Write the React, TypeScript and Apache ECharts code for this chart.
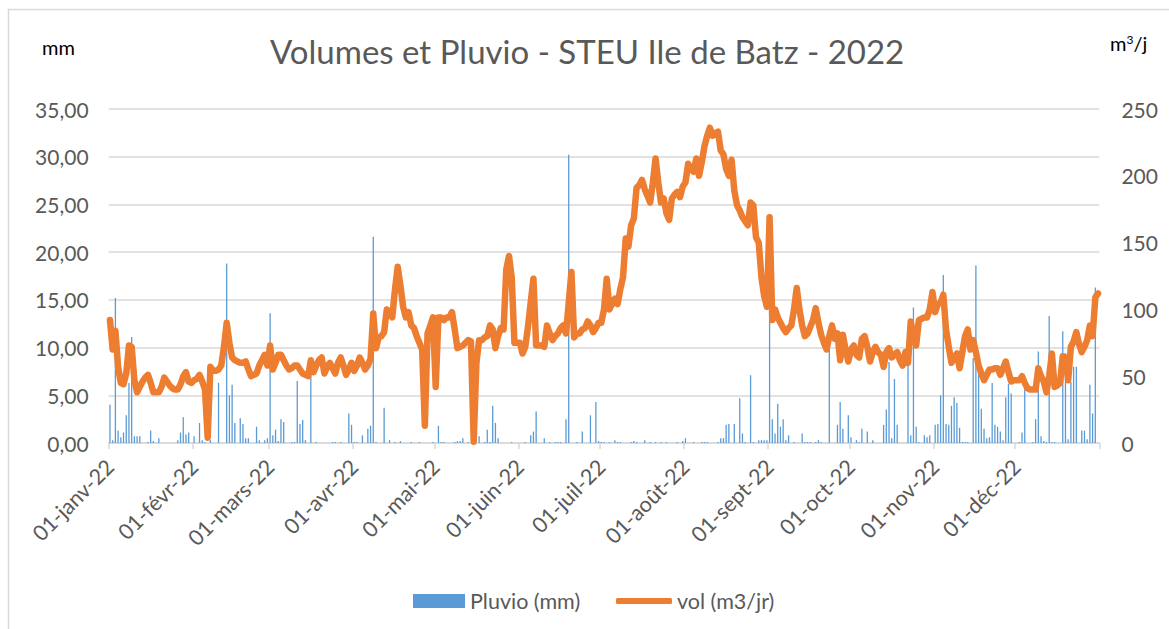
import React, { useEffect, useRef } from "react";
import * as echarts from "echarts";

const monthNames = ["janv", "févr", "mars", "avr", "mai", "juin", "juil", "août", "sept", "oct", "nov", "déc"];
const daysPerMonth = [31, 28, 31, 30, 31, 30, 31, 31, 30, 31, 30, 31];

// Pluvio (mm), daily, per month
const pluvioJanv = [4.0, 0.3, 15.2, 1.3, 0.6, 1.1, 2.9, 6.3, 11.1, 0.7, 0.7, 0.7, 0, 0, 0.1, 1.3, 0.2, 0, 0.5, 0, 0, 0, 0, 0, 0, 0.3, 1.1, 2.7, 0.9, 1.1, 0];
const pluvioFevr = [0.7, 0, 2.1, 0.3, 0.1, 0, 0.3, 0, 0, 6.3, 0, 0, 18.8, 5.0, 6.1, 2.1, 0, 2.6, 2.0, 0.5, 0.5, 0, 0, 1.7, 0.3, 0, 0.3, 0.5];
const pluvioMars = [13.6, 0.8, 1.4, 0.2, 2.5, 2.2, 0, 0, 0.1, 0.1, 6.5, 2.0, 2.4, 0.3, 0, 7.1, 0, 0.1, 0, 0, 0, 0, 0, 0.1, 0.1, 0, 0.1, 0, 0, 3.1, 1.9];
const pluvioAvr = [0.1, 0.1, 0, 0.8, 0, 1.5, 1.8, 21.6, 0.1, 0, 0, 3.7, 0, 0.3, 0, 0.1, 0, 0.2, 0, 0, 0, 0.1, 0, 0, 0.1, 0, 0, 0, 0, 0.1];
const pluvioMai = [0, 1.8, 0.1, 0.1, 0, 0, 0, 0.1, 0.2, 0.2, 0.5, 0, 0.1, 0, 0, 0, 0.7, 0, 0.1, 1.4, 0.1, 3.9, 2.1, 0.5, 0, 0, 0, 0, 0.1, 0, 0];
const pluvioJuin = [0, 0, 0.1, 0, 0.8, 1.2, 3.3, 0, 0, 0.5, 0, 0.1, 0, 0.1, 0.1, 0.1, 0, 2.5, 30.2, 0, 0, 0.1, 0, 1.2, 0, 0, 2.9, 0, 4.3, 0.2];
const pluvioJuil = [0.1, 0.1, 0, 0.1, 0, 0.3, 0.1, 0.1, 0, 0, 0, 0.1, 0.2, 0.1, 0, 0, 0.3, 0, 0.1, 0, 0.1, 0, 0.1, 0, 0.1, 0, 0, 0, 0.1, 0, 0.2];
const pluvioAout = [0.5, 0, 0, 0.1, 0, 0, 0.1, 0.1, 0.1, 0, 0, 0, 0.1, 0.5, 0.5, 1.9, 2.0, 0, 2.0, 0, 4.7, 1.0, 0.1, 0, 7.1, 0.1, 0, 0.3, 0.3, 0.3, 0.3];
const pluvioSept = [14.0, 2.5, 1.0, 4.1, 1.7, 2.5, 0.3, 0.8, 0, 0.1, 0, 0, 1.0, 0.1, 0.1, 0.1, 0, 0.1, 0.3, 0.1, 0, 0, 10.5, 0, 0, 1.9, 4.3, 1.5, 0, 2.9];
const pluvioOct = [0.6, 0, 0.3, 0.1, 1.5, 0, 1.2, 0, 0.3, 0, 0, 0, 1.9, 3.5, 8.5, 0.5, 6.7, 1.9, 0, 0, 0, 12.2, 0.8, 14.2, 1.7, 0.1, 0, 0.8, 0.6, 0.8, 0];
const pluvioNov = [1.9, 2.0, 5.0, 17.6, 2.0, 1.9, 3.9, 4.8, 4.2, 1.6, 0.1, 0.1, 0.1, 0, 8.9, 18.6, 8.5, 3.6, 1.5, 0.5, 0.6, 6.3, 1.9, 1.7, 1.2, 0.3, 4.8, 6.2, 5.2, 0];
const pluvioDec = [0, 0.1, 1.1, 6.2, 0, 0, 0.1, 2.5, 9.6, 0.7, 0.2, 0.1, 13.3, 0.1, 0.1, 0, 0, 11.7, 9.4, 0.4, 6.4, 8.0, 8.0, 0, 1.3, 1.3, 0.4, 6.1, 3.1, 16.3, 0];

// vol (m3/jr), daily, per month
const volJanv = [92, 70, 84, 57, 45, 44, 52, 73, 72, 47, 38, 42, 46, 49, 51, 45, 38, 38, 38, 42, 49, 46, 43, 41, 40, 40, 44, 50, 53, 46, 45];
const volFevr = [47, 48, 51, 46, 40, 4, 57, 54, 54, 55, 58, 72, 90, 75, 64, 62, 61, 60, 60, 61, 55, 50, 51, 52, 58, 62, 66, 58];
const volMars = [73, 55, 60, 66, 66, 62, 58, 55, 56, 58, 58, 55, 52, 51, 50, 62, 53, 58, 62, 64, 52, 57, 60, 56, 52, 60, 64, 58, 51, 55, 60];
const volAvr = [54, 58, 64, 60, 55, 58, 63, 97, 71, 79, 80, 83, 100, 97, 94, 115, 132, 118, 102, 94, 98, 88, 86, 80, 75, 70, 13, 82, 88, 94];
const volMai = [42, 94, 94, 92, 94, 94, 98, 85, 71, 72, 73, 75, 77, 76, 1, 60, 77, 77, 79, 80, 88, 85, 71, 80, 86, 85, 130, 140, 124, 75, 75];
const volJuin = [75, 67, 72, 87, 105, 123, 73, 73, 73, 72, 88, 82, 77, 80, 82, 86, 88, 82, 105, 128, 79, 82, 82, 85, 86, 91, 88, 83, 86, 90];
const volJuil = [90, 100, 123, 100, 104, 108, 104, 115, 124, 153, 147, 163, 168, 191, 193, 197, 190, 185, 180, 195, 213, 195, 180, 183, 172, 167, 183, 186, 188, 184, 192];
const volAout = [195, 209, 205, 203, 213, 200, 210, 222, 230, 236, 230, 232, 233, 219, 216, 205, 200, 212, 189, 178, 174, 169, 166, 163, 180, 178, 154, 150, 124, 110, 102];
const volSept = [169, 92, 100, 94, 90, 86, 83, 86, 88, 100, 116, 100, 88, 80, 82, 87, 92, 101, 90, 81, 75, 70, 80, 88, 78, 82, 62, 81, 70, 61];
const volOct = [70, 73, 66, 64, 78, 80, 72, 61, 68, 72, 68, 66, 57, 68, 71, 64, 66, 68, 62, 58, 68, 60, 91, 80, 73, 92, 93, 94, 94, 100, 113];
const volNov = [98, 104, 105, 111, 85, 72, 60, 64, 67, 56, 68, 80, 85, 70, 77, 68, 58, 52, 47, 51, 55, 55, 56, 56, 51, 56, 61, 53, 46, 47];
const volDec = [47, 47, 50, 45, 41, 40, 40, 40, 56, 50, 46, 38, 50, 67, 42, 43, 45, 65, 64, 47, 72, 76, 83, 74, 68, 72, 77, 88, 80, 109, 112];

const leftTicks = { min: 0, max: 35, interval: 5 };
const rightTicks = { min: 0, max: 250, interval: 50 };

const pluvio = [
  ...pluvioJanv, ...pluvioFevr, ...pluvioMars, ...pluvioAvr, ...pluvioMai, ...pluvioJuin,
  ...pluvioJuil, ...pluvioAout, ...pluvioSept, ...pluvioOct, ...pluvioNov, ...pluvioDec,
];
const vol = [
  ...volJanv, ...volFevr, ...volMars, ...volAvr, ...volMai, ...volJuin,
  ...volJuil, ...volAout, ...volSept, ...volOct, ...volNov, ...volDec,
];

const categories: string[] = [];
const monthStarts = new Set<number>();
monthNames.forEach((m, mi) => {
  monthStarts.add(categories.length);
  for (let d = 1; d <= daysPerMonth[mi]; d++) {
    categories.push(`${String(d).padStart(2, "0")}-${m}-22`);
  }
});

const FONT = "Lato, 'Noto Sans', sans-serif";
const GREY = "#595959";

export default function App() {
  const ref = useRef<HTMLDivElement>(null);
  useEffect(() => {
    if (!ref.current) return;
    const chart = echarts.init(ref.current, undefined, { renderer: "svg" });
    const isMonthStart = (i: number) => monthStarts.has(i);
    chart.setOption({
      animation: false,
      backgroundColor: "#ffffff",
      textStyle: { fontFamily: FONT },
      title: {
        text: "Volumes et Pluvio - STEU Ile de Batz - 2022",
        left: 270,
        top: 34,
        padding: 0,
        textStyle: { fontFamily: FONT, fontSize: 33, fontWeight: "normal", color: GREY },
      },
      legend: [
        {
          left: 413,
          top: 590,
          padding: 0,
          itemWidth: 52,
          itemHeight: 14,
          textStyle: { fontFamily: FONT, fontSize: 21.5, color: GREY },
          data: [{ name: "Pluvio (mm)", icon: "rect" }],
        },
        {
          left: 616,
          top: 590,
          padding: 0,
          itemWidth: 56,
          itemHeight: 6,
          textStyle: { fontFamily: FONT, fontSize: 21.5, color: GREY },
          data: [{ name: "vol (m3/jr)", icon: "roundRect" }],
        },
      ],
      graphic: [
        {
          type: "rect",
          shape: { x: 8.5, y: 9.5, width: 1400, height: 900 },
          style: { fill: "none", stroke: "#d9d9d9", lineWidth: 1.5 },
          silent: true,
        },
        {
          type: "text",
          left: 42,
          top: 37,
          style: { text: "mm", fontFamily: FONT, fontSize: 20, fill: "#000000" },
        },
        {
          type: "text",
          left: 1110,
          top: 33,
          style: {
            text: "m{sup|3}/j",
            fontFamily: FONT,
            fontSize: 20,
            fill: "#000000",
            rich: { sup: { fontSize: 12, verticalAlign: "top", padding: [0, 0, 8, 0], fill: "#000000", fontFamily: FONT } },
          },
        },
      ],
      grid: { left: 108.6, right: 69.6, top: 109, bottom: 186, containLabel: false },
      xAxis: {
        type: "category",
        data: categories,
        boundaryGap: true,
        axisLine: { lineStyle: { color: "#d9d9d9", width: 1.5 } },
        axisTick: { show: true, interval: isMonthStart, alignWithLabel: false, length: 6, lineStyle: { color: "#d9d9d9", width: 1.5 } },
        axisLabel: {
          interval: isMonthStart,
          rotate: 45,
          margin: 20,
          fontFamily: FONT,
          fontSize: 21.5,
          color: GREY,
        },
        splitLine: { show: false },
      },
      yAxis: [
        {
          type: "value",
          ...leftTicks,
          axisLine: { show: false },
          axisTick: { show: false },
          axisLabel: {
            margin: 20,
            fontFamily: FONT,
            fontSize: 21,
            color: GREY,
            formatter: (v: number) => v.toFixed(2).replace(".", ","),
          },
          splitLine: { lineStyle: { color: "#d9d9d9", width: 1.5 } },
        },
        {
          type: "value",
          ...rightTicks,
          axisLine: { show: false },
          axisTick: { show: false },
          axisLabel: { margin: 22, fontFamily: FONT, fontSize: 21, color: GREY },
          splitLine: { show: false },
        },
      ],
      series: [
        {
          name: "Pluvio (mm)",
          type: "bar",
          yAxisIndex: 0,
          data: pluvio,
          barWidth: 1.3,
          itemStyle: { color: "#5B9BD5" },
        },
        {
          name: "vol (m3/jr)",
          type: "line",
          yAxisIndex: 1,
          data: vol,
          symbol: "none",
          showSymbol: false,
          lineStyle: { color: "#ED7D31", width: 6.5, cap: "round", join: "round" },
          itemStyle: { color: "#ED7D31" },
        },
      ],
    });
    return () => chart.dispose();
  }, []);
  return (
    <div
      ref={ref}
      style={{ position: "fixed", left: 0, top: 0, width: 1169, height: 629, background: "#fff" }}
    />
  );
}
